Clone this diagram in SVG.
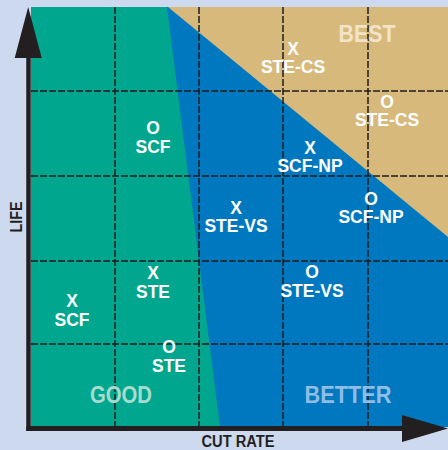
<svg xmlns="http://www.w3.org/2000/svg" width="448" height="450" viewBox="0 0 448 450">
<style>
.lbl{font-family:"Liberation Sans",Arial,sans-serif;font-weight:bold;font-size:17.5px;fill:#ffffff;text-anchor:middle}
.zone{font-family:"Liberation Sans",Arial,sans-serif;font-weight:bold;font-size:23px;text-anchor:middle}
.axis{font-family:"Liberation Sans",Arial,sans-serif;font-weight:bold;font-size:16px;fill:#231f20;text-anchor:middle}
.grid{stroke:#1c1c1c;stroke-width:1.5;stroke-dasharray:7 2;fill:none}
</style>
<rect x="0" y="0" width="448" height="450" fill="#cdd9ee"/>
<g id="regions">
<rect x="31" y="7" width="417" height="420" fill="#0078bf"/>
<polygon points="168,7 448,7 448,237" fill="#d8b97c"/>
<polygon points="31,7 167,7 220,427 31,427" fill="#00a68d"/>
</g>
<g id="grid">
<line class="grid" x1="115" y1="7" x2="115" y2="427"/>
<line class="grid" x1="199" y1="7" x2="199" y2="427"/>
<line class="grid" x1="283" y1="7" x2="283" y2="427"/>
<line class="grid" x1="368" y1="7" x2="368" y2="427"/>
<line class="grid" x1="31" y1="91" x2="448" y2="91"/>
<line class="grid" x1="31" y1="176" x2="448" y2="176"/>
<line class="grid" x1="31" y1="261" x2="448" y2="261"/>
<line class="grid" x1="31" y1="344" x2="448" y2="344"/>
</g>
<g id="zones">
<text class="zone" x="121" y="403" fill="#a8dbcd" textLength="62" lengthAdjust="spacingAndGlyphs">GOOD</text>
<text class="zone" x="348" y="403" fill="#8fbde5" textLength="87" lengthAdjust="spacingAndGlyphs">BETTER</text>
<text class="zone" x="367" y="42" fill="#f1e4c8" textLength="57" lengthAdjust="spacingAndGlyphs">BEST</text>
</g>
<g id="n-o-scf"><text class="lbl"><tspan x="153" y="134">O</tspan><tspan x="153" y="153">SCF</tspan></text></g>
<g id="n-x-ste-cs"><text class="lbl"><tspan x="293" y="55">X</tspan><tspan x="293" y="73">STE-CS</tspan></text></g>
<g id="n-o-ste-cs"><text class="lbl"><tspan x="387" y="108">O</tspan><tspan x="387" y="126">STE-CS</tspan></text></g>
<g id="n-x-scf-np"><text class="lbl"><tspan x="310" y="154">X</tspan><tspan x="310" y="172">SCF-NP</tspan></text></g>
<g id="n-o-scf-np"><text class="lbl"><tspan x="371" y="205">O</tspan><tspan x="371" y="223">SCF-NP</tspan></text></g>
<g id="n-x-ste-vs"><text class="lbl"><tspan x="236" y="214">X</tspan><tspan x="236" y="232">STE-VS</tspan></text></g>
<g id="n-o-ste-vs"><text class="lbl"><tspan x="312" y="278">O</tspan><tspan x="312" y="297">STE-VS</tspan></text></g>
<g id="n-x-ste"><text class="lbl"><tspan x="153" y="279">X</tspan><tspan x="153" y="298">STE</tspan></text></g>
<g id="n-x-scf"><text class="lbl"><tspan x="72" y="307">X</tspan><tspan x="72" y="326">SCF</tspan></text></g>
<g id="n-o-ste"><text class="lbl"><tspan x="169" y="353">O</tspan><tspan x="169" y="372">STE</tspan></text></g>
<g id="axes">
<line x1="28.5" y1="50" x2="28.5" y2="431" stroke="#231f20" stroke-width="4.5"/>
<polygon points="28.2,7 14.7,58 41.7,58" fill="#231f20"/>
<line x1="26.3" y1="428.5" x2="405" y2="428.5" stroke="#231f20" stroke-width="5"/>
<polygon points="402,415 402,442 448,428.5" fill="#231f20"/>
<text class="axis" x="238" y="447" textLength="73" lengthAdjust="spacingAndGlyphs">CUT RATE</text>
<text class="axis" transform="translate(22,217) rotate(-90)" x="0" y="0" textLength="31" lengthAdjust="spacingAndGlyphs">LIFE</text>
</g>
</svg>
